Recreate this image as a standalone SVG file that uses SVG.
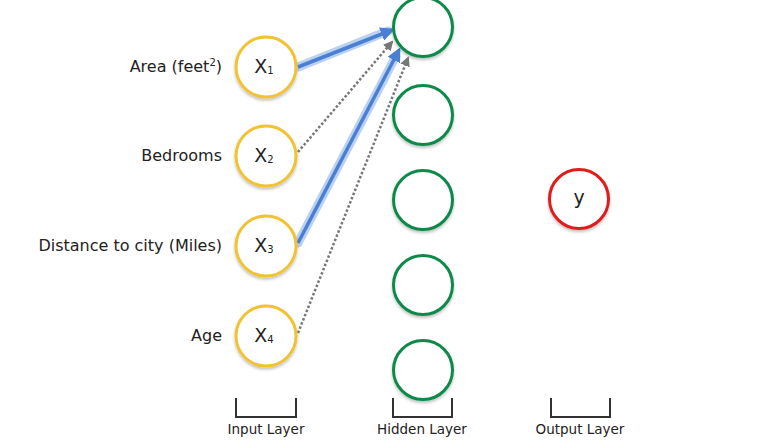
<svg xmlns="http://www.w3.org/2000/svg" width="772" height="440" viewBox="0 0 772 440">
<style>
text{font-family:"DejaVu Sans","Open Sans",sans-serif;fill:#222}
.lbl{font-size:16px;text-anchor:end}
.in{fill:#fff;stroke:#f1c232;stroke-width:3}
.hid{fill:#fff;stroke:#0f8a4a;stroke-width:3}
.out{fill:#fff;stroke:#e01b1b;stroke-width:3}
.sym{font-size:19px;text-anchor:middle}
.sub{font-size:10px}
.glow{stroke:#a9c6ef;stroke-width:9;stroke-linecap:round;fill:none;opacity:0.8}
.blue{stroke:#4a7fd4;stroke-width:3.5;fill:none}
.dot{stroke:#777;stroke-width:2.5;stroke-dasharray:2.5 2;fill:none}
.brk{stroke:#333;stroke-width:2;fill:none}
.cap{font-size:13.5px;text-anchor:middle}
</style>
<defs>
<marker id="ab" viewBox="0 0 10 10" refX="8" refY="5" markerWidth="4" markerHeight="4" orient="auto" markerUnits="strokeWidth"><path d="M0,0L10,5L0,10z" fill="#4a7fd4"/></marker>
<marker id="ag" viewBox="0 0 10 10" refX="8" refY="5" markerWidth="4" markerHeight="4" orient="auto" markerUnits="strokeWidth"><path d="M0,0L10,5L0,10z" fill="#777"/></marker>
<filter id="sh" x="-20%" y="-20%" width="140%" height="150%"><feDropShadow dx="0" dy="2" stdDeviation="1.5" flood-color="#000" flood-opacity="0.25"/></filter>
</defs>
<g id="connectors">
<line class="glow" x1="298" y1="67" x2="388" y2="31"/>
<line class="blue" x1="298" y1="67" x2="392" y2="30" marker-end="url(#ab)"/>
<line class="dot" x1="298" y1="152" x2="392" y2="42" marker-end="url(#ag)"/>
<line class="glow" x1="298" y1="243" x2="396" y2="56"/>
<line class="blue" x1="298" y1="243" x2="399" y2="50" marker-end="url(#ab)"/>
<line class="dot" x1="298" y1="333" x2="408" y2="58" marker-end="url(#ag)"/>
</g>
<g id="input1"><text class="lbl" x="222" y="72">Area (feet<tspan font-size="10" dy="-6">2</tspan><tspan dy="6">)</tspan></text><circle class="in" cx="266" cy="67" r="30" filter="url(#sh)"/><text class="sym" x="264" y="73">X<tspan class="sub" dy="1">1</tspan></text></g>
<g id="input2"><text class="lbl" x="222" y="161">Bedrooms</text><circle class="in" cx="266" cy="156" r="30" filter="url(#sh)"/><text class="sym" x="264" y="162">X<tspan class="sub" dy="1">2</tspan></text></g>
<g id="input3"><text class="lbl" x="222" y="251">Distance to city (Miles)</text><circle class="in" cx="266" cy="246" r="30" filter="url(#sh)"/><text class="sym" x="264" y="252">X<tspan class="sub" dy="1">3</tspan></text></g>
<g id="input4"><text class="lbl" x="222" y="341">Age</text><circle class="in" cx="266" cy="336" r="30" filter="url(#sh)"/><text class="sym" x="264" y="342">X<tspan class="sub" dy="1">4</tspan></text></g>
<g id="hidden1"><circle class="hid" cx="423" cy="27" r="29.5" filter="url(#sh)"/></g>
<g id="hidden2"><circle class="hid" cx="423" cy="115" r="29.5" filter="url(#sh)"/></g>
<g id="hidden3"><circle class="hid" cx="423" cy="200" r="29.5" filter="url(#sh)"/></g>
<g id="hidden4"><circle class="hid" cx="423" cy="285" r="29.5" filter="url(#sh)"/></g>
<g id="hidden5"><circle class="hid" cx="423" cy="370" r="29.5" filter="url(#sh)"/></g>
<g id="output"><circle class="out" cx="579" cy="199" r="29.5" filter="url(#sh)"/><text class="sym" x="579" y="204">y</text></g>
<g id="input-layer"><path class="brk" d="M236,398V417H296V398"/><text class="cap" x="266" y="434">Input Layer</text></g>
<g id="hidden-layer"><path class="brk" d="M393,398V417H452V398"/><text class="cap" x="422" y="434">Hidden Layer</text></g>
<g id="output-layer"><path class="brk" d="M551,398V417H610V398"/><text class="cap" x="580" y="434">Output Layer</text></g>
</svg>
